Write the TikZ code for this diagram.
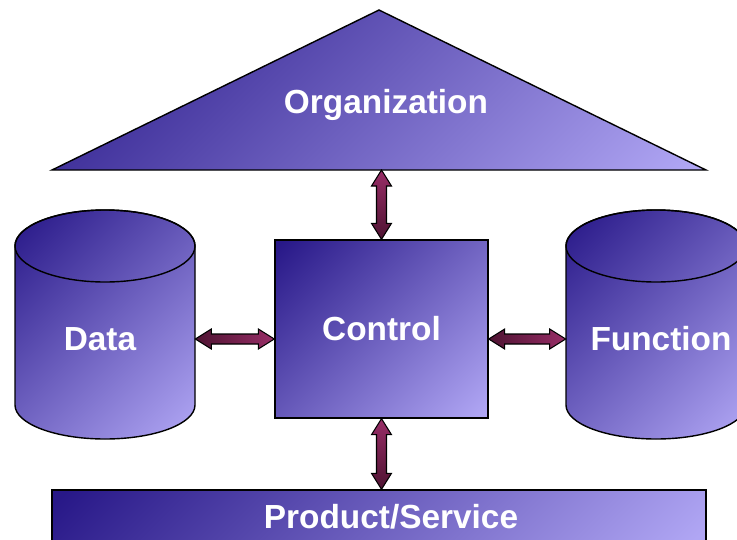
\documentclass[tikz,border=0pt]{standalone}
\usepackage{fontspec}
\setmainfont{Liberation Sans}
\definecolor{deep-indigo}{RGB}{40,24,136}
\definecolor{pale-lilac}{RGB}{176,166,244}
\definecolor{wine-dark}{RGB}{70,16,44}
\definecolor{wine-light}{RGB}{160,48,108}
\usetikzlibrary{calc}

% corner to corner gradients
\pgfdeclareverticalshading{indigofade}{100bp}{color(0bp)=(pale-lilac); color(16bp)=(pale-lilac); color(84bp)=(deep-indigo); color(100bp)=(deep-indigo)}
\pgfdeclareverticalshading{winefade}{100bp}{color(0bp)=(wine-dark); color(20bp)=(wine-dark); color(80bp)=(wine-light); color(100bp)=(wine-light)}

\tikzset{
    block/.style={draw=black,line width=0.8pt,shading=indigofade,shading angle=45},
    boxtext/.style={text=white,font=\bfseries\fontsize{19}{22}\selectfont},
    harrowfill/.style={draw=black,line width=0.6pt,shading=winefade,shading angle=-90},
    varrowfill/.style={draw=black,line width=0.6pt,shading=winefade,shading angle=0}
}
% block arrows, tip to tip
\newcommand\harrow[2]{%
    \draw[harrowfill] (#1) -- ++(16,10) -- ++(0,-5) -- ($(#2)+(-16,5)$) -- ++(0,5) -- (#2)
        -- ++(-16,-10) -- ++(0,5) -- ($(#1)+(16,-5)$) -- ++(0,-5) -- cycle;}
\newcommand\varrow[2]{%
    \draw[varrowfill] (#1) -- ++(10,-16) -- ++(-5,0) -- ($(#2)+(5,16)$) -- ++(5,0) -- (#2)
        -- ++(-10,16) -- ++(5,0) -- ($(#1)+(-5,-16)$) -- ++(-5,0) -- cycle;}

\begin{document}
\begin{tikzpicture}[x=0.02cm,y=0.02cm]
    \useasboundingbox (0,0) rectangle (737,539);
    \clip (0,0) rectangle (737,539);
    %
    \draw[block] (379,529) -- (706,369) -- (52,369) -- cycle;
    \node[boxtext] (org) at (386,434) {Organization};
    \coordinate (orgbase) at (381.5,369);
    %
    \foreach \cx in {105,656}{
        \draw[block] (\cx-90,293) -- (\cx-90,134) arc (180:360:90 and 34)
            -- (\cx+90,293) arc (0:180:90 and 36) -- cycle;
        \draw[line width=0.8pt] (\cx,293) ellipse (90 and 36);
    }
    \node[boxtext,minimum width=3.6cm,inner sep=0] (data) at (105,200) {Data\hspace*{0.2cm}};
    \node[boxtext,minimum width=3.6cm,inner sep=0] (function) at (656,200) {\hspace*{0.2cm}Function};
    %
    \node[block,boxtext,minimum width=4.26cm,minimum height=3.56cm,inner sep=0] (control) at (381.5,210) {Control};
    \node[block,boxtext,minimum width=13.08cm,minimum height=1.08cm,inner sep=0] (product) at (379,22) {\hspace*{0.48cm}Product/Service};
    %
    \varrow{orgbase}{control.north}
    \varrow{control.south}{control.south |- product.north}
    \harrow{data.east}{data.east -| control.west}
    \harrow{control.east |- function.west}{function.west}
\end{tikzpicture}
\end{document}
